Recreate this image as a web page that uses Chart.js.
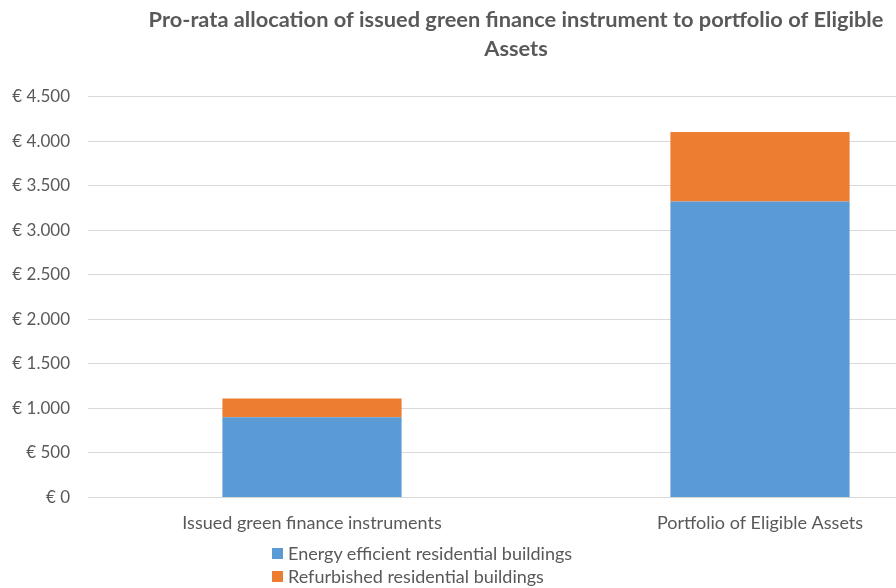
<!DOCTYPE html>
<html>
<head>
<meta charset="utf-8">
<script src="https://cdn.jsdelivr.net/npm/chart.js@4.4.1/dist/chart.umd.min.js"></script>
<style>
  html, body { margin: 0; padding: 0; background: #fff; overflow: hidden; width: 896px; height: 588px; }
  #wrap { position: absolute; left: 0; top: 0; width: 1032px; height: 588px; }
  #legend { position: absolute; left: 272px; top: 542px; font-family: Lato, "Liberation Sans", sans-serif; font-size: 18px; color: #595959; line-height: 23px; }
  #legend .item { display: flex; align-items: center; white-space: nowrap; }
  #legend .box { width: 11px; height: 11px; margin-right: 5px; }
</style>
</head>
<body>
<div id="wrap"><canvas id="c"></canvas></div>
<div id="legend"></div>
<script>
const titleLines = ["Pro-rata allocation of issued green finance instrument to portfolio of Eligible", "Assets"];
const categories = ["Issued green finance instruments", "Portfolio of Eligible Assets"];
const seriesNames = ["Energy efficient residential buildings", "Refurbished residential buildings"];
const energyEfficient = [900, 3325];
const refurbished = [210, 780];
const yTicks = [0, 500, 1000, 1500, 2000, 2500, 3000, 3500, 4000, 4500];
const colors = ["#5B9BD5", "#ED7D31"];

function fmt(v) {
  return "\u20AC " + String(v).replace(/\B(?=(\d{3})+(?!\d))/g, ".");
}

const font = "Lato, 'Liberation Sans', sans-serif";
const ctx = document.getElementById("c");
const chart = new Chart(ctx, {
  type: "bar",
  data: {
    labels: categories,
    datasets: [
      { label: seriesNames[0], data: energyEfficient, backgroundColor: colors[0], barPercentage: 0.4, categoryPercentage: 1.0 },
      { label: seriesNames[1], data: refurbished, backgroundColor: colors[1], barPercentage: 0.4, categoryPercentage: 1.0 }
    ]
  },
  options: {
    responsive: true,
    maintainAspectRatio: false,
    animation: false,
    layout: { padding: { left: 0, right: 0, top: 5, bottom: 47 } },
    plugins: {
      legend: { display: false },
      tooltip: { enabled: false },
      title: {
        display: true,
        text: titleLines,
        color: "#595959",
        font: { family: font, size: 21.8, weight: "bold", lineHeight: 1.35 },
        padding: { top: 0, bottom: 33 }
      }
    },
    scales: {
      x: {
        stacked: true,
        grid: { display: false },
        border: { display: false },
        ticks: { color: "#595959", font: { family: font, size: 18 }, padding: 7 }
      },
      y: {
        stacked: true,
        min: 0,
        max: 4500,
        afterBuildTicks: (s) => { s.ticks = yTicks.map(v => ({ value: v })); },
        afterFit: (s) => { s.width = 88; },
        grid: { color: "#D9D9D9", lineWidth: 1, drawTicks: false },
        border: { display: false },
        ticks: { color: "#595959", font: { family: font, size: 17 }, padding: 18, callback: (v) => fmt(v) }
      },
      yRight: {
        position: "right",
        display: true,
        afterFit: (s) => { s.width = 48; },
        grid: { display: false, drawTicks: false },
        border: { display: false },
        ticks: { display: false }
      }
    }
  }
});

const leg = document.getElementById("legend");
seriesNames.forEach((n, i) => {
  const d = document.createElement("div");
  d.className = "item";
  d.innerHTML = '<span class="box" style="background:' + colors[i] + '"></span><span>' + n + '</span>';
  leg.appendChild(d);
});
</script>
</body>
</html>
